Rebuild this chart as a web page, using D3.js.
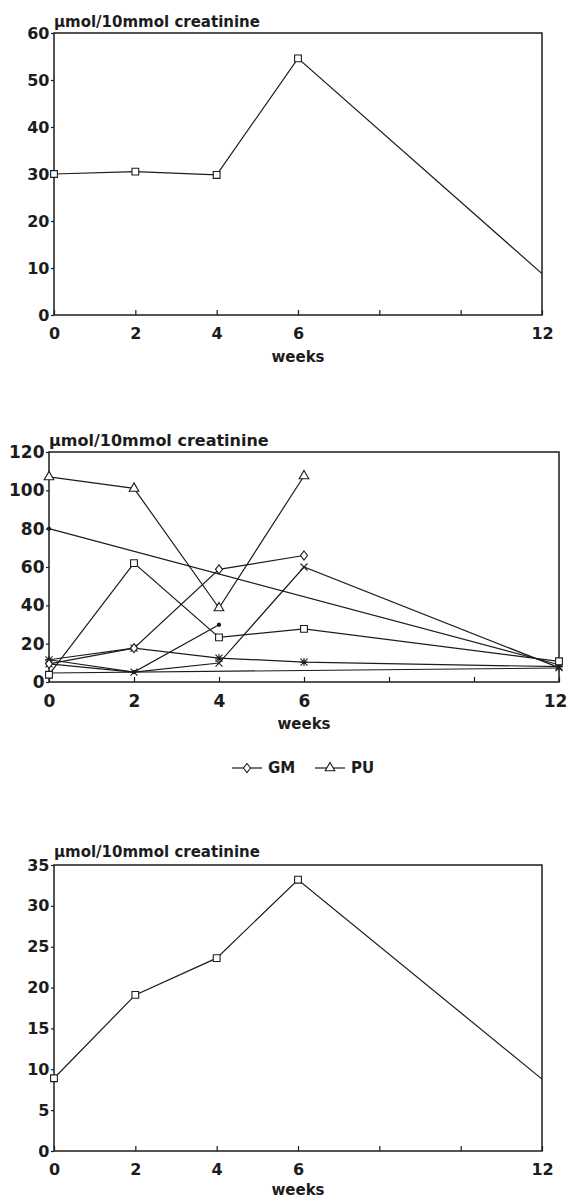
<!DOCTYPE html>
<html>
<head>
<meta charset="utf-8">
<script src="https://cdn.jsdelivr.net/npm/d3@7"></script>
<style>
  body { margin: 0; background: #fff; }
  text { font-family: "DejaVu Sans", sans-serif; font-weight: bold; fill: #1c1c1c; }
</style>
</head>
<body>
<div id="chart"></div>
<script>
!(function(){
    "use strict"

    // shared x axis: weeks
    var weeks = [0, 2, 4, 6, 12];
    var weekTicks = [0, 2, 4, 6, 8, 10, 12];
    var weekLabels = [0, 2, 4, 6, 12];
    var yTitle = "µmol/10mmol creatinine";
    var xTitle = "weeks";

    // top panel
    var topValues = [30, 30.5, 29.8, 54.6, 8.8];
    var topYTicks = [0, 10, 20, 30, 40, 50, 60];

    // middle panel, one array per line
    var puValues    = [107, 101, 38.6, 107.5, null];
    var gmValues    = [9.5, 17.7, 58.8, 66, null];
    var sqValues    = [3.8, 62, 23.3, 27.7, 10.8];
    var diagValues  = [80, null, null, null, 9];
    var starValues  = [11.6, 17.7, 12.5, 10.4, 8];
    var crossValues = [9.5, 5.2, 9.9, 60, 7.5];
    var dotValues   = [11.6, 5.2, 29.9, null, null];
    var flatValues  = [4.7, null, null, null, 7.3];
    var midYTicks = [0, 20, 40, 60, 80, 100, 120];
    var legendNames = ["GM", "PU"];

    // bottom panel
    var bottomValues = [8.9, 19.1, 23.6, 33.2, 8.8];
    var bottomYTicks = [0, 5, 10, 15, 20, 25, 30, 35];

    var width = 569, height = 1200;
    var ink = "#1c1c1c";

    var svg = d3.select("#chart").append("svg")
        .attr("width", width)
        .attr("height", height);

    function markerPath(type) {
        switch (type) {
            case "square":   return d3.symbol().type(d3.symbolSquare).size(46)();
            case "triangle": return d3.symbol().type(d3.symbolTriangle).size(40)();
            case "diamond":  return "M0,-4.5L3.5,0L0,4.5L-3.5,0Z";
            case "x":        return "M-3.5,-3.5L3.5,3.5M-3.5,3.5L3.5,-3.5";
            case "star":     return "M-3.5,-3.5L3.5,3.5M-3.5,3.5L3.5,-3.5M0,-4L0,4M-4,0L4,0";
            case "dot":      return d3.symbol().type(d3.symbolCircle).size(8)();
        }
        return null;
    }

    function drawPanel(p) {
        var g = svg.append("g");
        var x = d3.scaleLinear().domain([0, 12]).range([p.left, p.right]);
        var y = d3.scaleLinear().domain([0, p.yMax]).range([p.bottom, p.top]);

        // x axis (ticks point up into the plot)
        var xAxis = g.append("g")
            .attr("transform", "translate(0," + p.bottom + ")")
            .call(d3.axisBottom(x)
                .tickValues(weekTicks)
                .tickSize(-5)
                .tickPadding(p.tickFont * 0.78)
                .tickFormat(function(d){ return weekLabels.indexOf(d) >= 0 ? d : ""; }))
            .call(function(a){ a.select(".domain").remove(); })
            .attr("font-family", null)
            .attr("font-size", p.tickFont)
            .style("color", ink);

        // keep the last label inside the page
        xAxis.selectAll(".tick text")
            .filter(function(d){ return d === 12; })
            .attr("dx", p.lastShift || 0);

        g.append("g")
            .attr("transform", "translate(" + p.left + ",0)")
            .call(d3.axisLeft(y)
                .tickValues(p.yTicks)
                .tickSize(3)
                .tickPadding(1.5))
            .call(function(a){ a.select(".domain").remove(); })
            .attr("font-family", null)
            .attr("font-size", p.tickFont)
            .style("color", ink);

        g.selectAll(".tick line").attr("stroke-width", 1.2);

        // frame
        g.append("rect")
            .attr("x", p.left).attr("y", p.top)
            .attr("width", p.right - p.left)
            .attr("height", p.bottom - p.top)
            .attr("fill", "none")
            .attr("stroke", ink)
            .attr("stroke-width", 1.5);

        g.append("text")
            .attr("x", p.left)
            .attr("y", p.titleY)
            .attr("font-size", p.titleFont)
            .text(yTitle);

        g.append("text")
            .attr("x", (p.left + p.right) / 2)
            .attr("y", p.bottom + p.weeksGap)
            .attr("text-anchor", "middle")
            .attr("font-size", 15)
            .text(xTitle);

        var line = d3.line()
            .x(function(d){ return x(d.w); })
            .y(function(d){ return y(d.v); });

        p.series.forEach(function(s) {
            var pts = weeks.map(function(w, i){ return { w: w, v: s.values[i] }; })
                .filter(function(d){ return d.v != null; });

            g.append("path")
                .attr("d", line(pts))
                .attr("fill", "none")
                .attr("stroke", ink)
                .attr("stroke-width", 1.2);

            var marked = p.markLast ? pts : pts.filter(function(d){ return d.w !== 12; });
            if (!s.marker) return;
            g.selectAll(null)
                .data(marked)
                .enter().append("path")
                .attr("transform", function(d){ return "translate(" + x(d.w) + "," + y(d.v) + ")"; })
                .attr("d", markerPath(s.marker))
                .attr("fill", s.marker === "dot" ? ink : "#fff")
                .attr("stroke", ink)
                .attr("stroke-width", 1.1);
        });
    }

    drawPanel({
        left: 54, right: 542, top: 33, bottom: 315,
        yMax: 60, yTicks: topYTicks, tickFont: 16, titleFont: 15, titleY: 27, weeksGap: 47,
        markLast: false,
        series: [{ values: topValues, marker: "square" }]
    });

    drawPanel({
        left: 49, right: 559, top: 452, bottom: 682,
        yMax: 120, yTicks: midYTicks, tickFont: 17, titleFont: 16, titleY: 446, weeksGap: 47,
        markLast: true, lastShift: -4,
        series: [
            { values: flatValues,  marker: null },
            { values: diagValues,  marker: "dot" },
            { values: dotValues,   marker: "dot" },
            { values: crossValues, marker: "x" },
            { values: starValues,  marker: "star" },
            { values: sqValues,    marker: "square" },
            { values: gmValues,    marker: "diamond" },
            { values: puValues,    marker: "triangle" }
        ]
    });

    drawPanel({
        left: 54, right: 542, top: 865, bottom: 1151,
        yMax: 35, yTicks: bottomYTicks, tickFont: 16, titleFont: 15, titleY: 857, weeksGap: 44,
        markLast: false,
        series: [{ values: bottomValues, marker: "square" }]
    });

    // legend under the middle panel
    var legendMarkers = ["diamond", "triangle"];
    var legend = svg.append("g").attr("transform", "translate(0,768)");
    legendNames.forEach(function(name, i) {
        var x0 = 232 + i * 83;
        legend.append("line")
            .attr("x1", x0).attr("x2", x0 + 30)
            .attr("stroke", ink).attr("stroke-width", 1.2);
        legend.append("path")
            .attr("transform", "translate(" + (x0 + 15) + ",0)")
            .attr("d", markerPath(legendMarkers[i]))
            .attr("fill", "#fff").attr("stroke", ink).attr("stroke-width", 1.1);
        legend.append("text")
            .attr("x", x0 + 36)
            .attr("dy", "0.36em")
            .attr("font-size", 15)
            .text(name);
    });

}());
</script>
</body>
</html>
